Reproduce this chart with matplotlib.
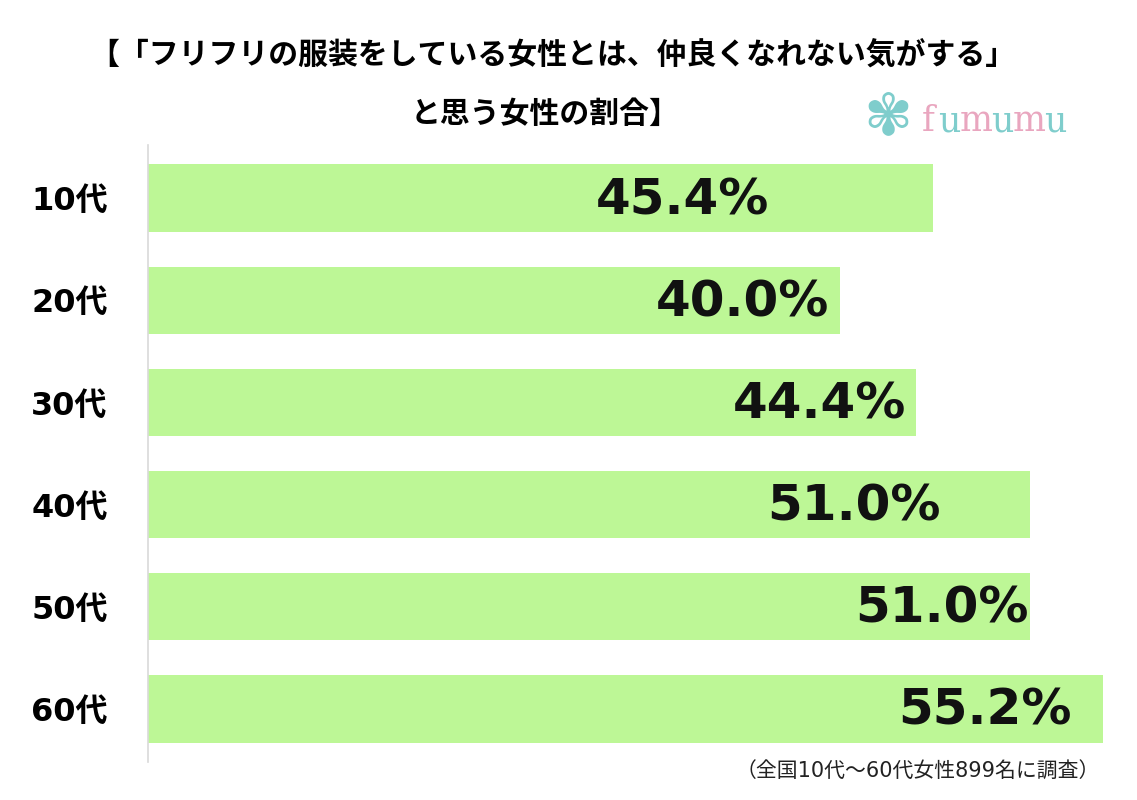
import matplotlib.pyplot as plt

plt.rcParams['font.family'] = ['Noto Sans CJK JP', 'DejaVu Sans']

categories = ["10代", "20代", "30代", "40代", "50代", "60代"]
values = [45.4, 40.0, 44.4, 51.0, 51.0, 55.2]
# where each label ends, relative to the end of its bar (hand placed in the original)
label_shift = [-9.5, -0.6, -0.6, -5.2, -0.1, -1.8]

title1 = "【「フリフリの服装をしている女性とは、仲良くなれない気がする」"
title2 = "と思う女性の割合】"
note = "（全国10代～60代女性899名に調査）"

bar_color = "#bdf796"
wide = ['DejaVu Sans', 'Noto Sans CJK JP']

fig = plt.figure(figsize=(11.37, 8), dpi=100)
ax = fig.add_axes([148 / 1137, 38 / 800, 955 / 1137, 617 / 800])

ypos = list(range(len(categories)))
ax.barh(ypos, values, height=0.66, color=bar_color)
ax.set_xlim(0, 55.2)
ax.set_ylim(len(categories) - 0.48, -0.52)

for y, v, s in zip(ypos, values, label_shift):
    ax.text(v + s, y + 0.02, f"{v:.1f}%", ha="right", va="center",
            fontsize=36, fontweight="bold", color="#111111", family=wide)

ax.set_yticks(ypos)
ax.set_yticklabels(categories, fontsize=23, fontweight="bold", family=wide)
ax.tick_params(axis="y", length=0, pad=29)
ax.set_xticks([])
for sp in ["top", "right", "bottom"]:
    ax.spines[sp].set_visible(False)
ax.spines["left"].set_color("#d9d9d9")
ax.spines["left"].set_linewidth(1.2)

fig.text(552 / 1137, 1 - 56 / 800, title1, ha="center", va="center",
         fontsize=21.5, fontweight="bold")
fig.text(545 / 1137, 1 - 114 / 800, title2, ha="center", va="center",
         fontsize=21.5, fontweight="bold")
fig.text(1100 / 1137, 1 - 771 / 800, note, ha="right", va="center",
         fontsize=15, color="#222222", family=wide)

# fumumu logo
fig.text(888 / 1137, 1 - 118 / 800, "✾", ha="center", va="center",
         fontsize=42, color="#7fcdcc", family="DejaVu Sans")
logo_cols = ["#e9a6bf", "#7fcdcc"]
x0 = 922
for i, ch in enumerate("fumumu"):
    fig.text(x0 / 1137, 1 - 121 / 800, ch, ha="left", va="center",
             fontsize=25, color=logo_cols[i % 2], family="DejaVu Serif")
    x0 += 16 if ch == "f" else (22 if ch == "u" else 31)

fig.savefig("out.png", dpi=100)
